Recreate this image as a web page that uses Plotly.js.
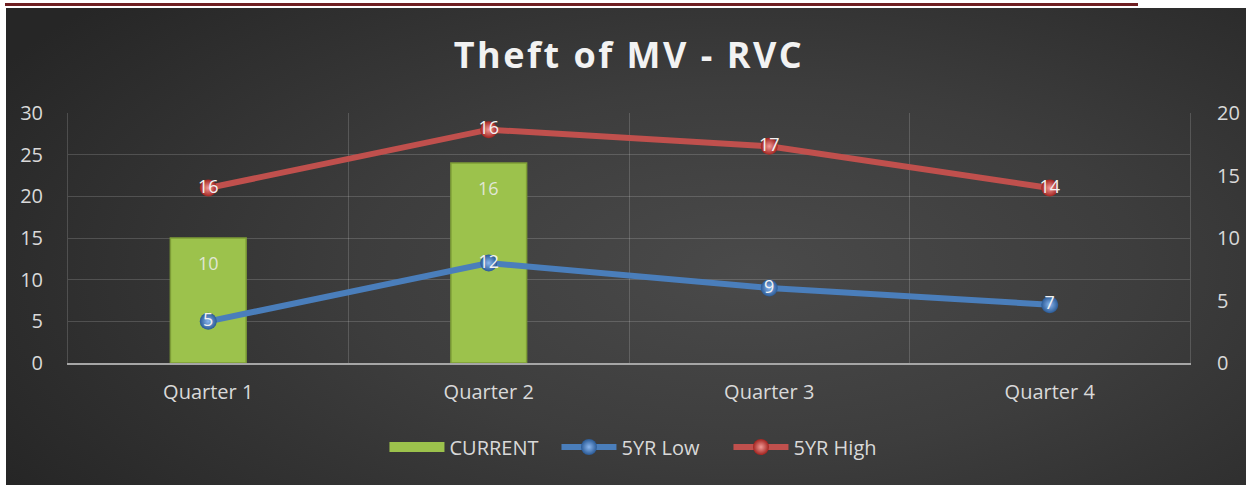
<!DOCTYPE html>
<html><head><meta charset="utf-8">
<script src="https://cdn.plot.ly/plotly-3.0.1.min.js"></script>
<style>
html,body{margin:0;padding:0;background:#fff;width:1252px;height:485px;overflow:hidden;}
#topline{position:absolute;left:5px;top:3px;width:1133px;height:3px;background:#6f1f22;}
#chart{position:absolute;left:6px;top:8px;width:1240px;height:477px;
background:radial-gradient(ellipse 70% 85% at 60% 55%, #4a4a4a 0%, #3d3d3d 45%, #262626 100%);}
.gtitle{letter-spacing:2.5px;}
</style></head><body>
<div id="topline"></div>
<div id="chart"></div>
<script>
const categories = ['Quarter 1', 'Quarter 2', 'Quarter 3', 'Quarter 4'];
const current = [10, 16, null, null];
const low5yr = [5, 12, 9, 7];
const high5yr = [16, 16, 17, 14];
const leftTicks = [0, 5, 10, 15, 20, 25, 30];
const rightTicks = [0, 5, 10, 15, 20];
const titleText = 'Theft of MV - RVC';

const grid = 'rgba(255,255,255,0.16)';
const tickFont = {family: 'Open Sans', size: 20, color: '#d9d9d9'};
const labelFont = {family: 'Open Sans', size: 18, color: '#f2f2f2'};
const barColor = '#9cc24c';

const traces = [
  {
    type: 'bar', name: 'CURRENT', x: categories, y: current, yaxis: 'y',
    width: 0.27, legendgroup: 'current', showlegend: false,
    marker: {color: barColor, line: {color: '#7d9d36', width: 1.5}},
    hoverinfo: 'skip'
  },
  {
    // legend entry for the CURRENT bars (wide green swatch, draws nothing)
    type: 'scatter', name: 'CURRENT', x: categories, y: current.map(() => null), yaxis: 'y',
    legendgroup: 'current', mode: 'lines',
    line: {color: barColor, width: 10}, hoverinfo: 'skip'
  },
  {
    type: 'scatter', name: '5YR Low', x: categories, y: low5yr, yaxis: 'y2',
    stackgroup: 'lines', fill: 'none',
    mode: 'lines+markers+text', text: low5yr.map(String), textposition: 'middle center',
    textfont: labelFont,
    line: {color: '#4a7ebb', width: 6},
    marker: {size: 17, color: '#2a5a96', gradient: {type: 'radial', color: '#8ab6ee'}},
    hoverinfo: 'skip'
  },
  {
    type: 'scatter', name: '5YR High', x: categories, y: high5yr, yaxis: 'y2',
    stackgroup: 'lines', fill: 'none',
    mode: 'lines+markers+text', text: high5yr.map(String), textposition: 'middle center',
    textfont: labelFont,
    line: {color: '#c0504d', width: 6},
    marker: {size: 17, color: '#a2231f', gradient: {type: 'radial', color: '#f29a96'}},
    hoverinfo: 'skip'
  }
];

const barLabels = categories.map((c, i) => current[i] == null ? null : {
  x: c, y: current[i], xref: 'x', yref: 'y', text: String(current[i]),
  showarrow: false, yanchor: 'middle', yshift: -25,
  font: {family: 'Open Sans', size: 18, color: 'rgba(238,238,238,0.85)'}
}).filter(Boolean);

const layout = {
  width: 1240, height: 477,
  margin: {l: 62, r: 56, t: 105, b: 122, pad: 0},
  paper_bgcolor: 'rgba(0,0,0,0)', plot_bgcolor: 'rgba(0,0,0,0)',
  font: {family: 'Open Sans', color: '#d9d9d9'},
  title: {
    text: titleText, x: 0.5, xref: 'paper', xanchor: 'center',
    y: 1 - 47 / 477, yref: 'container', yanchor: 'middle',
    font: {family: 'Open Sans', size: 36, color: '#f2f2f2', weight: 'bold'}
  },
  showlegend: true,
  legend: {
    orientation: 'h', x: 0.512, xref: 'paper', xanchor: 'center',
    y: 1 - 439 / 477, yref: 'container', yanchor: 'middle',
    font: {family: 'Open Sans', size: 20, color: '#d9d9d9'},
    itemwidth: 55, entrywidth: 102, entrywidthmode: 'pixels', bgcolor: 'rgba(0,0,0,0)'
  },
  xaxis: {
    type: 'category', range: [-0.5, 3.5], tickson: 'boundaries',
    showgrid: true, gridcolor: grid, gridwidth: 1,
    showline: true, linecolor: '#a6a6a6', linewidth: 2,
    ticks: '', tickfont: tickFont, ticklabelstandoff: 10, fixedrange: true
  },
  yaxis: {
    range: [0, 20], side: 'right', tickvals: rightTicks, ticktext: rightTicks.map(String),
    showgrid: false, zeroline: false, showline: true, linecolor: grid, linewidth: 1,
    ticks: '', tickfont: tickFont, ticklabelstandoff: 22, fixedrange: true
  },
  yaxis2: {
    range: [0, 30], side: 'left', overlaying: 'y', tickvals: leftTicks, ticktext: leftTicks.map(String),
    showgrid: true, gridcolor: grid, gridwidth: 1, zeroline: false,
    showline: true, linecolor: grid, linewidth: 1,
    ticks: '', tickfont: tickFont, ticklabelstandoff: 20, fixedrange: true
  },
  annotations: barLabels
};

Plotly.newPlot('chart', traces, layout, {displayModeBar: false, staticPlot: true});
</script>
</body></html>
